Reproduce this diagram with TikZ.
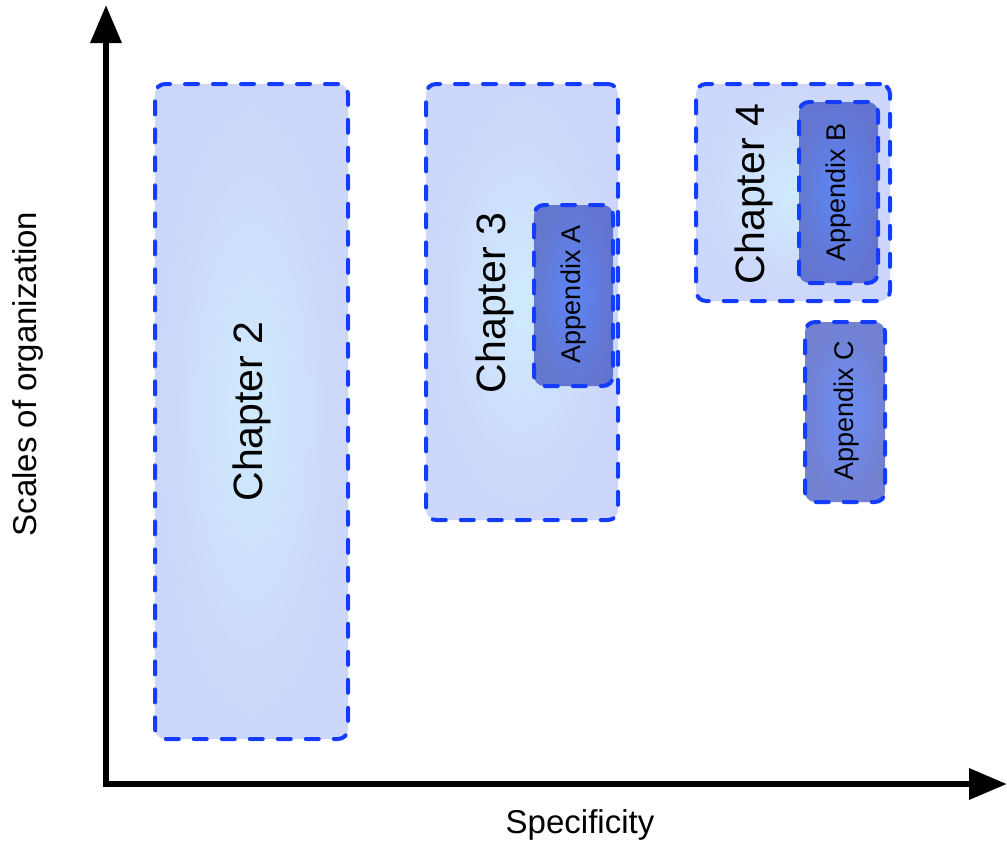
\documentclass[tikz,border=0pt]{standalone}
\usepackage{fontspec}
\setmainfont{Liberation Sans}
\usepackage{tikz}
\usetikzlibrary{arrows.meta}

\definecolor{edgeblue}{RGB}{20,60,255}
\definecolor{chapin}{RGB}{206,234,252}
\definecolor{chapout}{RGB}{205,214,251}
\definecolor{appin}{RGB}{45,95,245}
\definecolor{appout}{RGB}{55,75,190}

\tikzset{
  box/.style={draw=edgeblue, line width=4pt, dash pattern=on 13pt off 15pt,
    line cap=round, rounded corners=10pt, inner sep=0pt},
  chapbox/.style={box, inner color=chapin, outer color=chapout},
  appbox/.style={box, inner color=appin, outer color=appout, fill opacity=0.7},
  chaplabel/.style={rotate=90, font=\fontsize{41}{49}\selectfont},
  applabel/.style={rotate=90, font=\fontsize{27}{32}\selectfont},
  axislabel/.style={font=\fontsize{33}{40}\selectfont},
  axis/.style={line width=6.5pt, -{Triangle[length=38pt,width=30pt]}}
}

\begin{document}
\begin{tikzpicture}[x=1pt, y=-1pt]
      \useasboundingbox (0,0) rectangle (1007,846);
      % chapters
      \node[chapbox, minimum width=193pt, minimum height=655pt] (ch2) at (251.5,411.5) {};
      \node[chapbox, minimum width=192pt, minimum height=436pt] (ch3) at (522,302) {};
      \node[chapbox, minimum width=194pt, minimum height=217pt] (ch4) at (793,192.5) {};
      % appendices
      \node[appbox, minimum width=79pt, minimum height=181pt] (appA) at (573.5,295.5) {};
      \node[appbox, minimum width=79pt, minimum height=181pt] (appB) at (838.5,192.5) {};
      \node[appbox, minimum width=80pt, minimum height=180pt] (appC) at (845,412) {};
      \node[chaplabel] (ch2lab) at (ch2) {Chapter 2};
      \node[chaplabel] (ch3lab) at (495,303) {Chapter 3};
      \node[chaplabel] (ch4lab) at (754,194) {Chapter 4};
      \node[applabel] (appAlab) at (574,294) {Appendix A};
      \node[applabel] (appBlab) at (appB) {Appendix B};
      \node[applabel] (appClab) at (847,411) {Appendix C};
      % axes
      \coordinate (origin) at (106,784);
      \coordinate (ytop) at (106,5);
      \coordinate (xend) at (1007,784);
      \draw[axis] ([yshift=3pt]origin) -- (ytop);
      \draw[axis] ([xshift=-3pt]origin) -- (xend);
      \node[axislabel] (xlab) at (580,825) {Specificity};
      \node[axislabel, rotate=90] (ylab) at (28,374) {Scales of organization};
\end{tikzpicture}
\end{document}
